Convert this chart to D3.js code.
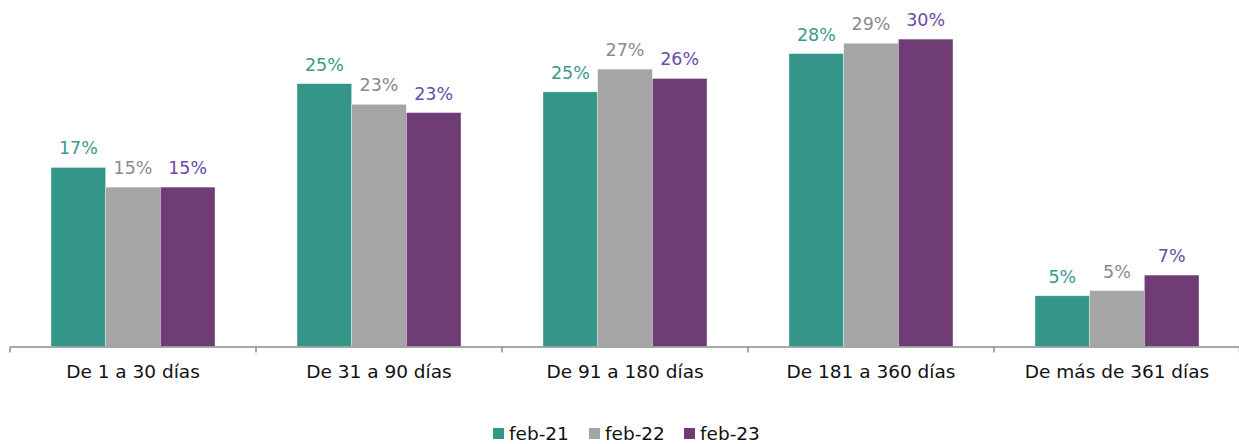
<!DOCTYPE html>
<html><head><meta charset="utf-8">
<script src="https://cdn.jsdelivr.net/npm/d3@7"></script>
<style>body{margin:0;background:#fff}svg{display:block}</style>
</head><body>
<svg id="c" width="1239" height="444"></svg>
<script>
const categories = ["De 1 a 30 días","De 31 a 90 días","De 91 a 180 días","De 181 a 360 días","De más de 361 días"];
const seriesNames = ["feb-21","feb-22","feb-23"];
const feb21 = [17.3, 25.4, 24.6, 28.3, 4.9];
const feb22 = [15.4, 23.4, 26.8, 29.3, 5.4];
const feb23 = [15.4, 22.6, 25.9, 29.7, 6.9];
const seriesValues = [feb21, feb22, feb23];

const colors = ["#339688","#A5A5A5","#6F3C75"];
const labelColors = ["#3A9A8A","#8A8A8A","#6A4BA8"];
const FONT = "'DejaVu Sans', sans-serif";

const svg = d3.select("#c");
const x0 = d3.scaleBand().domain(categories).range([10,1240]).paddingInner(0).paddingOuter(0);
const x1 = d3.scaleBand().domain(seriesNames).range([0, x0.bandwidth()]).paddingOuter(0.75).paddingInner(0);
const y = d3.scaleLinear().domain([0,32]).range([346.5, 346.5-32*10.35]);

const data = [];
categories.forEach((c,i)=>seriesNames.forEach((s,j)=>data.push({c,s,j,v:seriesValues[j][i]})));

svg.selectAll("rect.bar").data(data).join("rect").attr("class","bar")
  .attr("x",d=>x0(d.c)+x1(d.s)).attr("width",x1.bandwidth())
  .attr("y",d=>y(d.v)).attr("height",d=>y(0)-y(d.v))
  .attr("fill",d=>colors[d.j]).attr("stroke","#fff").attr("stroke-width",0.6).attr("stroke-opacity",0.6);

svg.selectAll("text.val").data(data).join("text").attr("class","val")
  .attr("x",d=>x0(d.c)+x1(d.s)+x1.bandwidth()/2).attr("y",d=>y(d.v)-13)
  .attr("text-anchor","middle").attr("font-family",FONT).attr("font-size",17.5)
  .attr("fill",d=>labelColors[d.j]).text(d=>d3.format(".0f")(d.v)+"%");

const axis = d3.axisBottom(x0).tickSize(0).tickPadding(18);
const g = svg.append("g").attr("transform","translate(0,346.5)").call(axis);
g.select(".domain").attr("stroke","#8C8C8C").attr("stroke-width",1.5);
g.selectAll("text").attr("font-family",FONT).attr("font-size",18.5).attr("fill","#111");
const bounds = categories.map(c=>x0(c)).concat([x0.range()[1]-0.5]);
g.selectAll("line.sep").data(bounds).join("line").attr("class","sep")
  .attr("x1",d=>d).attr("x2",d=>d).attr("y1",0).attr("y2",6)
  .attr("stroke","#8C8C8C").attr("stroke-width",1.5);

const legX = [493, 589, 684];
const leg = svg.append("g");
seriesNames.forEach((s,j)=>{
  leg.append("rect").attr("x",legX[j]).attr("y",428).attr("width",11).attr("height",11).attr("fill",colors[j]);
  leg.append("text").attr("x",legX[j]+16).attr("y",440).attr("font-family",FONT).attr("font-size",18.5).attr("fill","#111").text(s);
});
</script>
</body></html>
